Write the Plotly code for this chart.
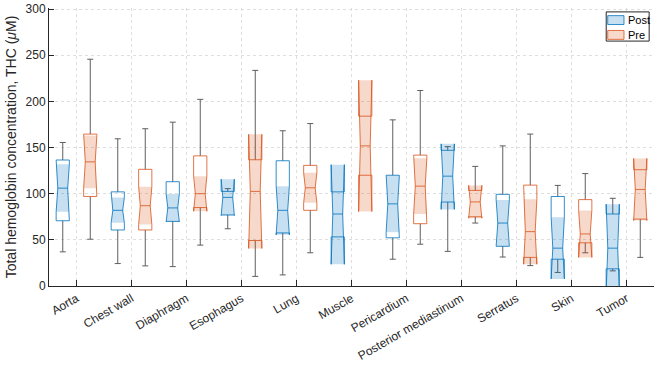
import plotly.graph_objects as go

categories = ["Aorta", "Chest wall", "Diaphragm", "Esophagus", "Lung", "Muscle",
              "Pericardium", "Posterior mediastinum", "Serratus", "Skin", "Tumor"]

# Post-treatment box statistics (THC, uM)
post_wlo = [37.0, 24.3, 21.0, 62.0, 12.0, 53.2, 29.0, 37.5, 31.4, 14.7, 16.4]
post_q1 = [70.7, 60.7, 70.0, 77.0, 57.5, 53.2, 52.2, 91.0, 43.0, 29.0, 18.6]
post_med = [106.0, 82.0, 84.6, 96.0, 82.0, 78.0, 89.0, 119.0, 68.2, 41.0, 41.0]
post_q3 = [136.5, 102.0, 113.0, 102.5, 135.7, 102.0, 120.0, 147.0, 99.3, 97.0, 78.0]
post_whi = [155.5, 159.5, 177.5, 105.5, 168.2, 102.0, 180.0, 151.0, 151.8, 109.0, 95.0]
post_nlo = [80.5, 68.5, 69.6, 76.4, 55.4, 23.5, 58.2, 83.0, 43.0, 7.7, -6.6]
post_nhi = [132.0, 96.0, 99.6, 115.7, 108.2, 131.5, 119.6, 154.0, 93.3, 74.5, 88.6]

# Pre-treatment box statistics (THC, uM)
pre_wlo = [50.7, 21.8, 44.3, 10.4, 36.0, 120.0, 45.3, 68.2, 22.1, 36.0, 31.0]
pre_q1 = [97.0, 60.7, 85.0, 49.3, 82.0, 120.0, 67.5, 75.0, 31.0, 46.8, 72.5]
pre_med = [134.5, 87.0, 100.0, 102.5, 106.4, 151.8, 108.2, 91.1, 58.9, 56.4, 104.6]
pre_q3 = [164.6, 126.4, 141.0, 136.8, 130.7, 184.0, 141.8, 103.6, 109.3, 93.6, 126.0]
pre_whi = [245.7, 170.4, 202.2, 233.6, 176.0, 184.0, 211.8, 129.6, 164.6, 121.8, 126.0]
pre_nlo = [106.0, 66.5, 81.0, 40.7, 90.2, 80.7, 78.0, 73.5, 23.6, 31.0, 71.0]
pre_nhi = [163.0, 107.5, 119.0, 164.3, 122.6, 223.0, 138.5, 109.0, 94.0, 81.8, 138.2]

y_ticks = [0, 50, 100, 150, 200, 250, 300]

HW = 0.12      # box half width (category units)
INSET = 0.75   # notch narrowing at the median
CAP = 0.055    # whisker cap half width
WHISKER_COLOR = "rgb(95,95,95)"
AX = "rgb(38,38,38)"

groups = [
    dict(name="Post", offset=-0.25, line="rgba(0,114,189,0.8)", fill="rgba(0,114,189,0.22)",
         wlo=post_wlo, q1=post_q1, med=post_med, q3=post_q3, whi=post_whi, nlo=post_nlo, nhi=post_nhi),
    dict(name="Pre", offset=0.25, line="rgba(217,83,25,0.8)", fill="rgba(217,83,25,0.22)",
         wlo=pre_wlo, q1=pre_q1, med=pre_med, q3=pre_q3, whi=pre_whi, nlo=pre_nlo, nhi=pre_nhi),
]

fig = go.Figure()

for g in groups:
    fx, fy, ox, oy, mx, my, wx, wy = [], [], [], [], [], [], [], []
    for i in range(len(categories)):
        c = i + 1 + g["offset"]
        x0, x1 = c - HW, c + HW
        xi0, xi1 = c - HW * INSET, c + HW * INSET
        q1, med, q3 = g["q1"][i], g["med"][i], g["q3"][i]
        nlo, nhi = g["nlo"][i], g["nhi"][i]
        wlo, whi = g["wlo"][i], g["whi"][i]
        # shaded notch region
        fx += [x0, xi0, x0, x1, xi1, x1, x0, None]
        fy += [nlo, med, nhi, nhi, med, nlo, nlo, None]
        # box outline with notches
        ox += [x0, x0, xi0, x0, x0, x1, x1, xi1, x1, x1, x0, None]
        oy += [q1, nlo, med, nhi, q3, q3, nhi, med, nlo, q1, q1, None]
        # median
        mx += [xi0, xi1, None]
        my += [med, med, None]
        # whiskers
        if whi > q3:
            wx += [c, c, None, c - CAP, c + CAP, None]
            wy += [q3, whi, None, whi, whi, None]
        if wlo < q1:
            wx += [c, c, None, c - CAP, c + CAP, None]
            wy += [q1, wlo, None, wlo, wlo, None]

    fig.add_trace(go.Scatter(x=wx, y=wy, mode="lines", line=dict(color=WHISKER_COLOR, width=1),
                             showlegend=False, hoverinfo="skip"))
    fig.add_trace(go.Scatter(x=fx, y=fy, mode="lines", fill="toself", fillcolor=g["fill"],
                             line=dict(width=0), name=g["name"], showlegend=False, hoverinfo="skip"))
    fig.add_trace(go.Scatter(x=ox, y=oy, mode="lines", line=dict(color=g["line"], width=1),
                             showlegend=False, hoverinfo="skip"))
    fig.add_trace(go.Scatter(x=mx, y=my, mode="lines", line=dict(color=g["line"], width=1),
                             showlegend=False, hoverinfo="skip"))

# compact legend box (top right, inside axes)
shapes = [dict(type="rect", xref="x domain", yref="y domain", x0=0.921, x1=0.992, y0=0.881, y1=0.986,
               line=dict(color=AX, width=1), fillcolor="white", layer="above")]
annotations = []
legend_rows = [(0.9405, 0.9725), (0.8872, 0.9192)]
for g, (ly0, ly1) in zip(groups, legend_rows):
    shapes.append(dict(type="rect", xref="x domain", yref="y domain", x0=0.9235, x1=0.9504,
                       y0=ly0, y1=ly1, line=dict(color=g["line"], width=1), fillcolor=g["fill"],
                       layer="above"))
    annotations.append(dict(text=g["name"], xref="x domain", yref="y domain", x=0.953,
                            y=(ly0 + ly1) / 2, xanchor="left", yanchor="middle", showarrow=False,
                            font=dict(size=11, color="black")))

fig.update_layout(
    width=656, height=367,
    margin=dict(l=49, r=2, t=5, b=81),
    plot_bgcolor="white", paper_bgcolor="white",
    font=dict(family="Liberation Sans, Arial, sans-serif", size=11, color=AX),
    showlegend=False,
    shapes=shapes, annotations=annotations,
)
fig.update_xaxes(
    type="linear", range=[0.5, 11.5],
    tickmode="array", tickvals=list(range(1, len(categories) + 1)), ticktext=categories,
    tickangle=-30, tickfont=dict(size=12),
    ticks="inside", ticklen=6, tickcolor=AX,
    showline=True, linecolor=AX, linewidth=1,
    showgrid=True, gridcolor="rgb(222,222,222)", griddash="dot", gridwidth=1,
    zeroline=False,
)
fig.update_yaxes(
    range=[0, 301.2],
    tickmode="array", tickvals=y_ticks, ticktext=[str(v) for v in y_ticks],
    tickfont=dict(size=12), ticklabeloverflow="allow",
    ticks="inside", ticklen=5, tickcolor=AX,
    showline=True, linecolor=AX, linewidth=1,
    showgrid=True, gridcolor="rgb(222,222,222)", griddash="dot", gridwidth=1,
    zeroline=False,
    title=dict(text="Total hemoglobin concentration, THC (<i>μ</i>M)", font=dict(size=14), standoff=5),
)

fig.write_html("out.html", config={"displayModeBar": False},
               post_script="document.body.style.margin='0';")
